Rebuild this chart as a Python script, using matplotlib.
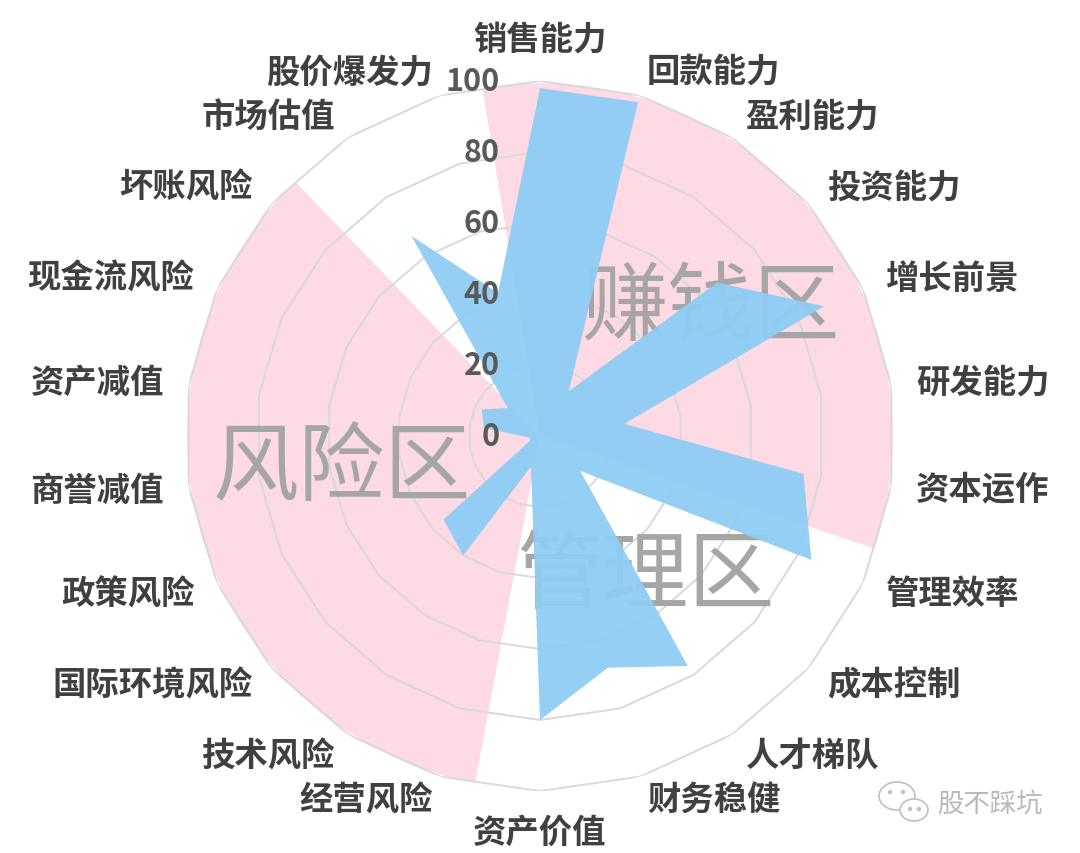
import numpy as np
import matplotlib
matplotlib.use("Agg")
import matplotlib.pyplot as plt
from matplotlib.patches import Ellipse
import matplotlib.transforms as mtransforms

plt.rcParams['font.family'] = ['Noto Sans CJK SC', 'DejaVu Sans']

categories = ['销售能力', '回款能力', '盈利能力', '投资能力', '增长前景', '研发能力',
              '资本运作', '管理效率', '成本控制', '人才梯队', '财务稳健', '资产价值',
              '经营风险', '技术风险', '国际环境风险', '政策风险', '商誉减值', '资产减值',
              '现金流风险', '坏账风险', '市场估值', '股价爆发力']
scores = [98, 98, 15, 66, 88, 24, 75, 84, 15, 77, 68, 80,
          9, 40, 36, 3, 3, 16, 18, 12, 67, 42]
rings = [20, 40, 60, 80, 100]
ring_labels = ['0', '20', '40', '60', '80', '100']

# zone sectors (degrees, clockwise from top)
zone_start = [350.6, 190.6]
zone_end = [468.6, 316.1]

n = len(categories)
theta = np.arange(n) * 2 * np.pi / n

fig = plt.figure(figsize=(10.8, 8.54), dpi=100)
ax = fig.add_axes([0.1713, 0.0726, 0.6574, 0.8314], projection='polar')
ax.set_theta_zero_location('N')
ax.set_theta_direction(-1)
ax.set_ylim(0, 100)
ax.grid(False)
ax.spines['polar'].set_visible(False)
ax.set_xticks([])
ax.set_yticks([])
ax.patch.set_alpha(0)

# pink zone sectors
for s, e in zip(zone_start, zone_end):
    ax.bar(np.deg2rad((s + e) / 2), 99.4, width=np.deg2rad(e - s), bottom=0,
           color='#fddae4', edgecolor='none', zorder=1)

# polygon grid
tc = np.append(theta, theta[0])
for r in rings:
    ax.plot(tc, [r] * (n + 1), color='#d9d9d9', lw=1.4, zorder=2)

# zone words
for ang, rad, word in [(53.2, 60, '赚钱区'), (143.1, 49.7, '管理区'), (260.5, 56.5, '风险区')]:
    ax.text(np.deg2rad(ang), rad, word, fontsize=62, color='#a6a6a6',
            fontweight='medium', ha='center', va='center', zorder=3)

# blue radar
sc = np.append(scores, scores[0])
ax.fill(tc, sc, color='#8fcdf4', alpha=0.95, edgecolor='none', zorder=4)

# radial tick labels
off = mtransforms.offset_copy(ax.transData, fig=fig, x=-40, y=0, units='dots')
for i, lab in enumerate(ring_labels):
    ax.text(0, i * 20, lab, transform=off, fontsize=22, color='#595959',
            ha='right', va='center', fontweight='bold', zorder=6)

# category labels
for t, lab in zip(theta, categories):
    s, c = np.sin(t), np.cos(t)
    if abs(s) < 0.1:
        ha = 'center'
        va = 'bottom' if c > 0 else 'top'
    else:
        ha = 'left' if s > 0 else 'right'
        va = 'center'
    ax.text(t, 107, lab, fontsize=24, fontweight='bold', color='#404040',
            ha=ha, va=va, zorder=6)

# watermark
W, H = 1080, 854
fig.text(990 / W, 1 - 805 / H, '股不踩坑', fontsize=19, color='#b8b8b8',
         ha='center', va='center')
for (cx, cy, w, h) in [(897, 797, 36, 28), (914, 811, 28, 22)]:
    fig.add_artist(Ellipse((cx / W, 1 - cy / H), w / W, h / H,
                           transform=fig.transFigure, fill=True, facecolor='white',
                           edgecolor='#c0c0c0', lw=1.2))
for (dx, dy) in [(890, 793), (903, 793), (910, 810), (919, 810)]:
    fig.add_artist(Ellipse((dx / W, 1 - dy / H), 3 / W, 3 / H,
                           transform=fig.transFigure, color='#c0c0c0'))

fig.savefig('out.png', dpi=100, facecolor='white')
